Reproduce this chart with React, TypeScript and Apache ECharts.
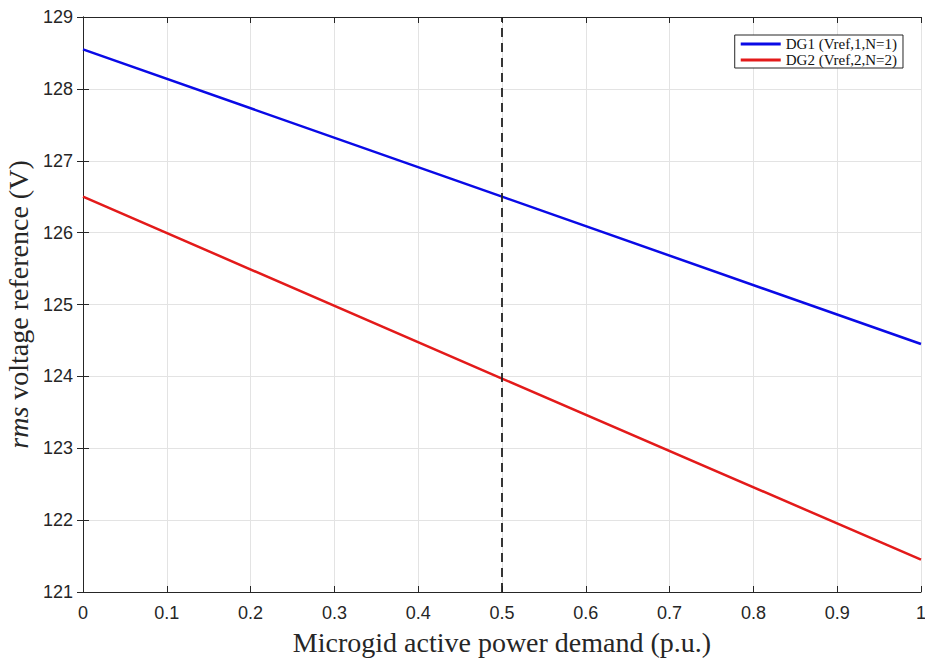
import React, { useEffect, useRef } from "react";
import * as echarts from "echarts";

const xValues = [0, 0.5, 1];
const dg1Values = [128.55, 126.5, 124.45];
const dg2Values = [126.5, 123.97, 121.45];
const seriesNames = ["DG1 (Vref,1,N=1)", "DG2 (Vref,2,N=2)"];
const dashedX = 0.5;

export default function App() {
  const ref = useRef<HTMLDivElement>(null);
  useEffect(() => {
    if (!ref.current) return;
    const chart = echarts.init(ref.current, null, { renderer: "svg" });
    const serif = "Liberation Serif, Times New Roman, serif";
    const tickFont = { fontFamily: "Liberation Sans, Arial, sans-serif", fontSize: 18, color: "#262626" };
    const axisLine = { show: true, lineStyle: { color: "#262626", width: 1 } };
    const splitLine = { show: true, lineStyle: { color: "#e3e3e3", width: 1 } };
    const tick = { show: true, inside: true, length: 6, lineStyle: { color: "#262626" } };
    chart.setOption({
      animation: false,
      backgroundColor: "#ffffff",
      grid: { left: 83, right: 4, top: 17, bottom: 70, containLabel: false, outerBoundsMode: "none" },
      legend: {
        right: 22,
        top: 35,
        orient: "vertical",
        itemWidth: 40,
        itemHeight: 3,
        itemGap: 0,
        padding: [1, 6, 0, 6],
        borderColor: "#262626",
        borderWidth: 1,
        backgroundColor: "#ffffff",
        icon: "rect",
        textStyle: { fontFamily: serif, fontSize: 15, lineHeight: 16, color: "#111" },
        data: seriesNames,
      },
      xAxis: [
        {
          type: "value",
          min: 0,
          max: 1,
          interval: 0.1,
          position: "bottom",
          name: "Microgid active power demand (p.u.)",
          nameLocation: "middle",
          nameGap: 36,
          nameTextStyle: { fontFamily: serif, fontSize: 28, color: "#262626" },
          axisLine,
          axisTick: tick,
          axisLabel: { ...tickFont, margin: 12, formatter: (v: number) => String(Math.round(v * 10) / 10) },
          splitLine,
        },
        {
          type: "value",
          min: 0,
          max: 1,
          interval: 0.1,
          position: "top",
          axisLine,
          axisTick: tick,
          axisLabel: { show: false },
          splitLine: { show: false },
        },
      ],
      yAxis: [
        {
          type: "value",
          min: 121,
          max: 129,
          interval: 1,
          position: "left",
          name: "{i|rms} voltage reference (V)",
          nameLocation: "middle",
          nameGap: 45,
          nameRotate: 90,
          nameTextStyle: {
            fontFamily: serif,
            fontSize: 28,
            color: "#262626",
            rich: {
              i: { fontFamily: serif, fontSize: 28, fontStyle: "italic", color: "#262626" },
            },
          },
          axisLine,
          axisTick: tick,
          axisLabel: { ...tickFont, margin: 10 },
          splitLine,
        },
        {
          type: "value",
          min: 121,
          max: 129,
          interval: 1,
          position: "right",
          axisLine,
          axisTick: tick,
          axisLabel: { show: false },
          splitLine: { show: false },
        },
      ],
      series: [
        {
          name: seriesNames[0],
          type: "line",
          data: xValues.map((x, i) => [x, dg1Values[i]]),
          showSymbol: false,
          symbol: "none",
          lineStyle: { color: "#0a0ae6", width: 2.5 },
          itemStyle: { color: "#0a0ae6" },
          markLine: {
            silent: true,
            symbol: "none",
            label: { show: false },
            lineStyle: { color: "#222", type: [9, 6], width: 1.8 },
            data: [{ xAxis: dashedX }],
          },
        },
        {
          name: seriesNames[1],
          type: "line",
          data: xValues.map((x, i) => [x, dg2Values[i]]),
          showSymbol: false,
          symbol: "none",
          lineStyle: { color: "#e31a1a", width: 2.5 },
          itemStyle: { color: "#e31a1a" },
        },
      ],
    });
    return () => chart.dispose();
  }, []);
  return <div ref={ref} style={{ position: "fixed", left: 0, top: 0, width: 925, height: 662 }} />;
}
